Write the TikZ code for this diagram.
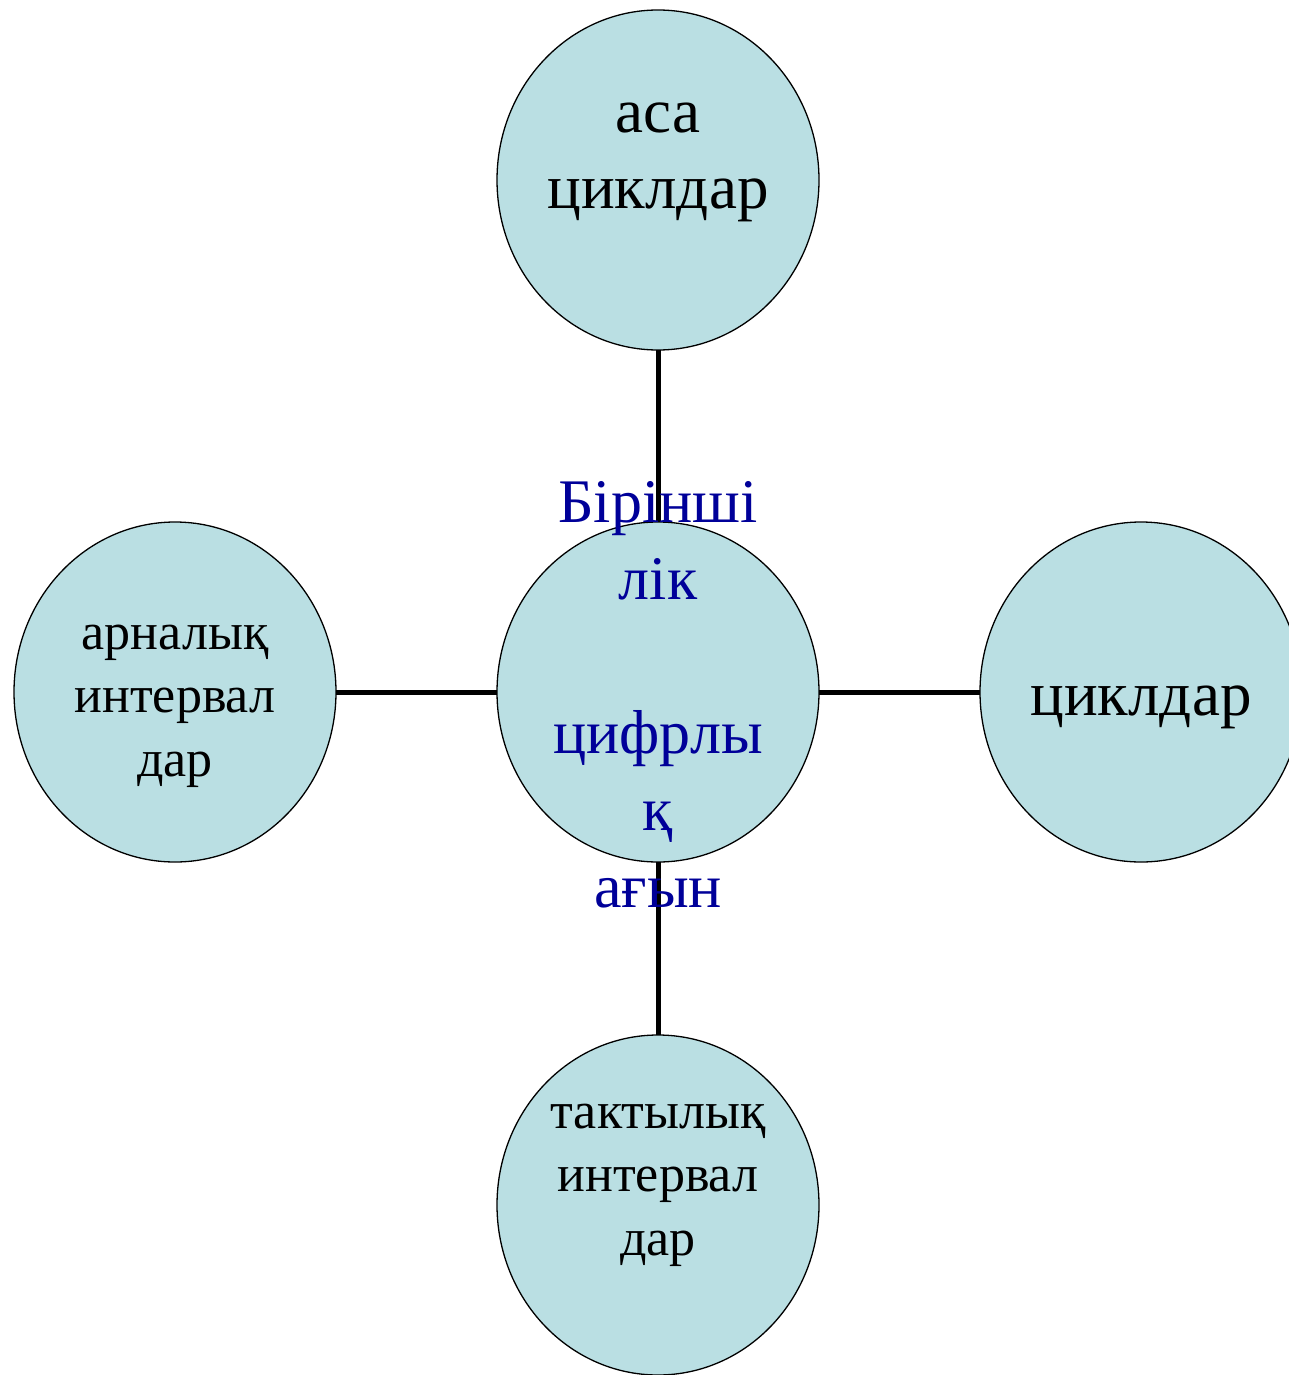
\documentclass[tikz,border=0pt]{standalone}
\usepackage{fontspec}
\setmainfont{Liberation Serif}
\usetikzlibrary{shapes.geometric}
\definecolor{cfill}{RGB}{186,223,227}
\definecolor{cblue}{RGB}{0,0,153}
\begin{document}
\begin{tikzpicture}[x=1pt,y=-1pt,
  bubble/.style={ellipse, draw=black, line width=1.3pt, fill=cfill,
    minimum width=322pt, minimum height=340pt, inner sep=0pt, outer sep=0pt},
  link/.style={line width=5pt, black},
  bigtext/.style={font=\fontsize{63}{76}\selectfont, align=center, anchor=base, inner sep=0pt},
  midtext/.style={font=\fontsize{62}{77}\selectfont, align=center, anchor=base, inner sep=0pt, text=cblue},
  smalltext/.style={font=\fontsize{52}{63.5}\selectfont, align=center, anchor=base, inner sep=0pt}]
\useasboundingbox (0,0) rectangle (1289,1375);
\clip (0,0) rectangle (1289,1375);
% bubbles
\node[bubble] (top) at (658,180) {};
\node[bubble] (mid) at (658,692) {};
\node[bubble] (left) at (175,692) {};
\node[bubble] (right) at (1141,692) {};
\node[bubble] (bot) at (658,1205) {};
% connectors
\draw[link] (top.south) -- (mid.north);
\draw[link] (mid.south) -- (bot.north);
\draw[link] (left.east) -- (mid.west);
\draw[link] (mid.east) -- (right.west);
% texts (anchor base = baseline of the last line)
\node[bigtext] (ttop) at (658,208) {аса\\циклдар};
\node[bigtext] (tright) at (1141,715) {циклдар};
\node[midtext] (tmid) at (658,907) {Біріншi\\лік\\[77pt]цифрлы\\қ\\ағын};
\node[smalltext] (tleft) at (175,776) {арналық\\интервал\\дар};
\node[smalltext] (tbot) at (658,1255) {тактылық\\интервал\\дар};
\end{tikzpicture}
\end{document}
